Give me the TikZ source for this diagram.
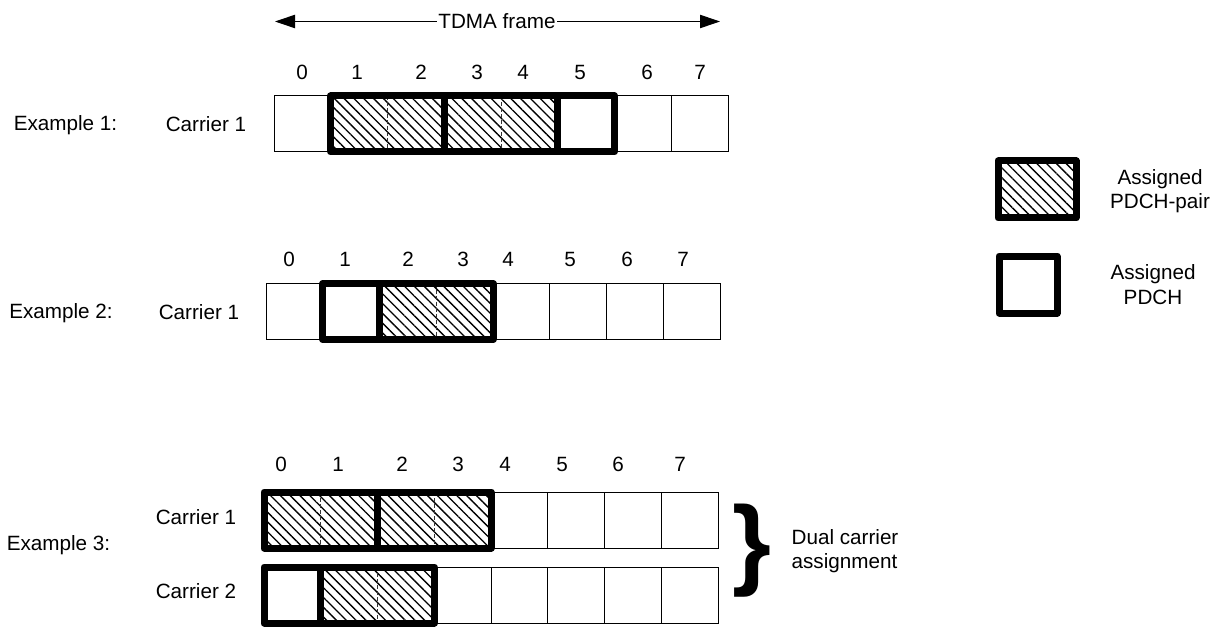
\documentclass[tikz,border=0pt]{standalone}
\usepackage{fontspec}
\setmainfont{Liberation Sans}
\usetikzlibrary{positioning,arrows.meta,patterns.meta}

\begin{document}
\begin{tikzpicture}[x=0.75pt, y=-0.75pt,
  every node/.style={font=\fontsize{15.5}{18.5}\selectfont},
  slot/.style={draw=black, line width=0.75pt, minimum width=42.56pt, minimum height=42pt, inner sep=0pt, outer sep=0pt},
  pair/.style={preaction={fill=white}, pattern={Lines[angle=-45,distance=5.2pt,line width=1pt]}, pattern color=black},
  pdch/.style={line width=5.25pt, line join=round},
  sep/.style={dash pattern=on 3pt off 1.5pt, line width=0.6pt, draw=black!80},
  flow/.style={line width=0.75pt, -{Triangle[length=15pt,width=10pt]}}]
\useasboundingbox (0,0) rectangle (1216,627);
% frame arrow
\node[inner sep=1pt] (tdma) at (497,21.5) {TDMA frame};
\coordinate (fl) at (275,21.5);
\coordinate (fr) at (720,21.5);
\draw[flow] (tdma.west) -- (fl);
\draw[flow] (tdma.east) -- (fr);
% example 1
\node (ex1) at (65.5,125) {Example 1:};
\node (ca1) at (206,124) {Carrier 1};
\foreach \x [count=\i from 0] in {302,357,421,477,523,580,647,700}
  \node (na\i) at (\x,72) {\i};
\foreach \i in {0,...,7}
  \node[slot] (a\i) at (302.4+56.75*\i,124) {};
\path[pair] (a1.north west) rectangle (a4.south east);
\draw[sep] (a2.north west) -- (a2.south west);
\draw[sep] (a4.north west) -- (a4.south west);
\draw[pdch] (a1.north west) rectangle (a5.south east);
\draw[pdch] (a3.north west) -- (a3.south west);
\draw[pdch] (a5.north west) -- (a5.south west);
% example 2
\node (ex2) at (61,313) {Example 2:};
\node (ca2) at (199,312) {Carrier 1};
\foreach \x [count=\i from 0] in {289,345,408,463,508,570,627,683}
  \node (nb\i) at (\x,259) {\i};
\foreach \i in {0,...,7}
  \node[slot] (b\i) at (294.4+56.75*\i,311.5) {};
\path[pair] (b2.north west) rectangle (b3.south east);
\draw[sep] (b3.north west) -- (b3.south west);
\draw[pdch] (b1.north west) rectangle (b3.south east);
\draw[pdch] (b2.north west) -- (b2.south west);
% example 3
\node (ex3) at (58.5,545) {Example 3:};
\node (ca3) at (196,517) {Carrier 1};
\node (cb3) at (196,591) {Carrier 2};
\foreach \x [count=\i from 0] in {281,338,402,458,505,562,618,680}
  \node (nc\i) at (\x,464) {\i};
\foreach \i in {0,...,7} {
  \node[slot] (c\i) at (292.4+56.75*\i,520) {};
  \node[slot] (d\i) at (292.4+56.75*\i,595) {};
}
\path[pair] (c0.north west) rectangle (c3.south east);
\draw[sep] (c1.north west) -- (c1.south west);
\draw[sep] (c3.north west) -- (c3.south west);
\draw[pdch] (c0.north west) rectangle (c3.south east);
\draw[pdch] (c2.north west) -- (c2.south west);
\path[pair] (d1.north west) rectangle (d2.south east);
\draw[sep] (d2.north west) -- (d2.south west);
\draw[pdch] (d0.north west) rectangle (d2.south east);
\draw[pdch] (d1.north west) -- (d1.south west);
\node[font=\fontsize{75}{75}\selectfont\bfseries, inner sep=0pt] (brace) at (752,551) {\}};
\node[align=left] (dual) at (845,551) {Dual carrier\\assignment};
% legend
\node[pair, draw, pdch, minimum width=58.5pt, minimum height=42.75pt] (lpair) at (1037,189.5) {};
\node[align=center] (tpair) at (1160,191) {Assigned\\PDCH-pair};
\node[draw, pdch, minimum width=43.5pt, minimum height=42.75pt] (lpdch) at (1028,284.5) {};
\node[align=center] (tpdch) at (1153,284.5) {Assigned\\PDCH};
\end{tikzpicture}
\end{document}
